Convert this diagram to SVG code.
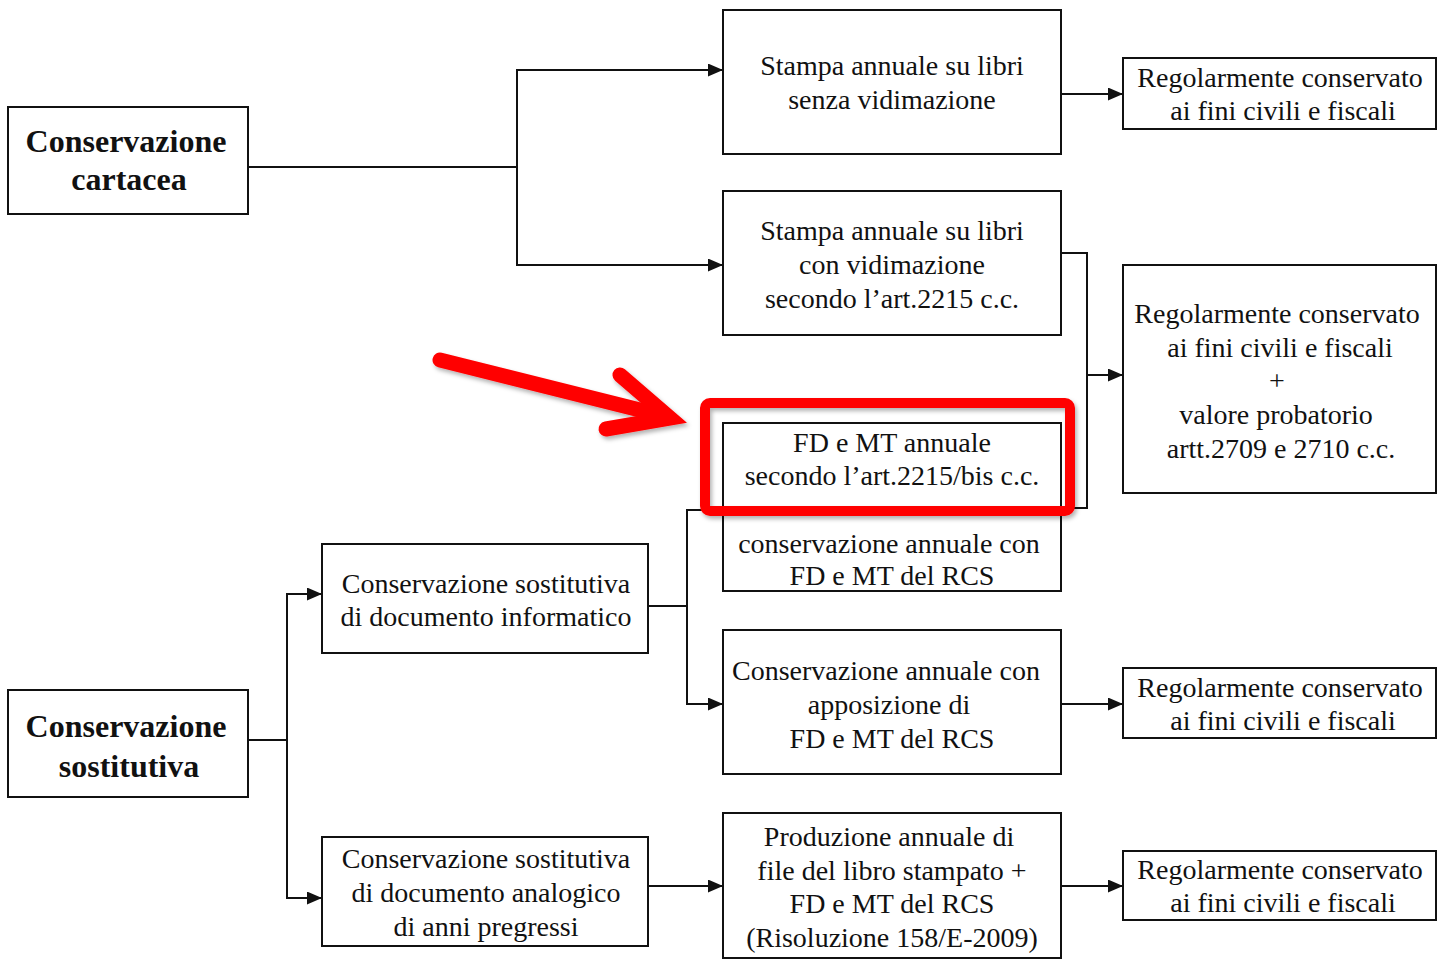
<svg xmlns="http://www.w3.org/2000/svg" width="1441" height="959" viewBox="0 0 1441 959">
<style>
.box{fill:#fff;stroke:#111;stroke-width:2}
.t{font-family:"Liberation Serif","Times New Roman",serif;font-size:28px;fill:#111;text-anchor:middle}
.b{font-family:"Liberation Serif","Times New Roman",serif;font-size:32px;font-weight:bold;fill:#111;text-anchor:middle}
.c{fill:none;stroke:#111;stroke-width:2}
.ca{fill:none;stroke:#111;stroke-width:2;marker-end:url(#ah)}
</style>
<defs>
<marker id="ah" viewBox="0 0 15 13" refX="15" refY="6.5" markerWidth="15" markerHeight="13" markerUnits="userSpaceOnUse" orient="auto">
<path d="M0,0 L15,6.5 L0,13 z" fill="#111"/>
</marker>
<filter id="sh" x="-10%" y="-20%" width="130%" height="160%">
<feDropShadow dx="2" dy="3" stdDeviation="2" flood-color="#000" flood-opacity="0.3"/>
</filter>
</defs>
<rect width="1441" height="959" fill="#fff"/>

<g id="connectors">
<path class="c" d="M248,167 H517"/>
<path class="ca" d="M517,167 V70 H723"/>
<path class="ca" d="M517,167 V265 H723"/>
<path class="ca" d="M1061,94 H1123"/>
<path class="c" d="M1061,253 H1087 V508 H1061"/>
<path class="ca" d="M1087,375 H1123"/>
<path class="c" d="M248,740 H287"/>
<path class="ca" d="M287,740 V594 H322"/>
<path class="ca" d="M287,740 V898 H322"/>
<path class="c" d="M648,606 H687"/>
<path class="c" d="M687,606 V510 H723"/>
<path class="ca" d="M687,606 V704 H723"/>
<path class="ca" d="M1061,704 H1123"/>
<path class="ca" d="M648,886 H723"/>
<path class="ca" d="M1061,886 H1123"/>
</g>

<g id="n-cartacea">
<rect class="box" x="8" y="107" width="240" height="107"/>
<text class="b" x="126" y="152">Conservazione</text>
<text class="b" x="129" y="190">cartacea</text>
</g>

<g id="n-stampa-senza">
<rect class="box" x="723" y="10" width="338" height="144"/>
<text class="t" x="892" y="75">Stampa annuale su libri</text>
<text class="t" x="892" y="109">senza vidimazione</text>
</g>

<g id="n-stampa-con">
<rect class="box" x="723" y="191" width="338" height="144"/>
<text class="t" x="892" y="240">Stampa annuale su libri</text>
<text class="t" x="892" y="274">con vidimazione</text>
<text class="t" x="892" y="308">secondo l’art.2215 c.c.</text>
</g>

<g id="n-reg1">
<rect class="box" x="1123" y="58" width="313" height="71"/>
<text class="t" x="1280" y="87">Regolarmente conservato</text>
<text class="t" x="1283" y="120">ai fini civili e fiscali</text>
</g>

<g id="n-reg2">
<rect class="box" x="1123" y="265" width="313" height="228"/>
<text class="t" x="1277" y="323">Regolarmente conservato</text>
<text class="t" x="1280" y="357">ai fini civili e fiscali</text>
<text class="t" x="1277" y="390">+</text>
<text class="t" x="1276" y="424">valore probatorio</text>
<text class="t" x="1281" y="458">artt.2709 e 2710 c.c.</text>
</g>

<g id="n-conservazione-rcs">
<rect class="box" x="723" y="510" width="338" height="81"/>
<text class="t" x="889" y="553">conservazione annuale con</text>
<text class="t" x="892" y="585">FD e MT del RCS</text>
</g>

<g id="n-fd-mt">
<rect class="box" x="723" y="423" width="338" height="87"/>
<text class="t" x="892" y="452">FD e MT annuale</text>
<text class="t" x="892" y="485">secondo l’art.2215/bis c.c.</text>
</g>

<g id="n-sostitutiva">
<rect class="box" x="8" y="690" width="240" height="107"/>
<text class="b" x="126" y="737">Conservazione</text>
<text class="b" x="129" y="777">sostitutiva</text>
</g>

<g id="n-informatico">
<rect class="box" x="322" y="544" width="326" height="109"/>
<text class="t" x="486" y="593">Conservazione sostitutiva</text>
<text class="t" x="486" y="626">di documento informatico</text>
</g>

<g id="n-apposizione">
<rect class="box" x="723" y="630" width="338" height="144"/>
<text class="t" x="886" y="680">Conservazione annuale con</text>
<text class="t" x="889" y="714">apposizione di</text>
<text class="t" x="892" y="748">FD e MT del RCS</text>
</g>

<g id="n-reg3">
<rect class="box" x="1123" y="668" width="313" height="70"/>
<text class="t" x="1280" y="697">Regolarmente conservato</text>
<text class="t" x="1283" y="730">ai fini civili e fiscali</text>
</g>

<g id="n-analogico">
<rect class="box" x="322" y="837" width="326" height="109"/>
<text class="t" x="486" y="868">Conservazione sostitutiva</text>
<text class="t" x="486" y="902">di documento analogico</text>
<text class="t" x="486" y="936">di anni pregressi</text>
</g>

<g id="n-produzione">
<rect class="box" x="723" y="813" width="338" height="145"/>
<text class="t" x="889" y="846">Produzione annuale di</text>
<text class="t" x="892" y="880">file del libro stampato +</text>
<text class="t" x="892" y="913">FD e MT del RCS</text>
<text class="t" x="892" y="947">(Risoluzione 158/E-2009)</text>
</g>

<g id="n-reg4">
<rect class="box" x="1123" y="851" width="313" height="69"/>
<text class="t" x="1280" y="879">Regolarmente conservato</text>
<text class="t" x="1283" y="912">ai fini civili e fiscali</text>
</g>

<g id="highlight" filter="url(#sh)">
<rect x="705" y="403" width="365" height="108" rx="5" fill="none" stroke="#f00" stroke-width="10"/>
<path d="M440,360 L664,416" fill="none" stroke="#f00" stroke-width="15" stroke-linecap="round"/>
<path d="M620,375 L670,418 L606,429" fill="none" stroke="#f00" stroke-width="15" stroke-linecap="round" stroke-linejoin="miter"/>
</g>
</svg>
